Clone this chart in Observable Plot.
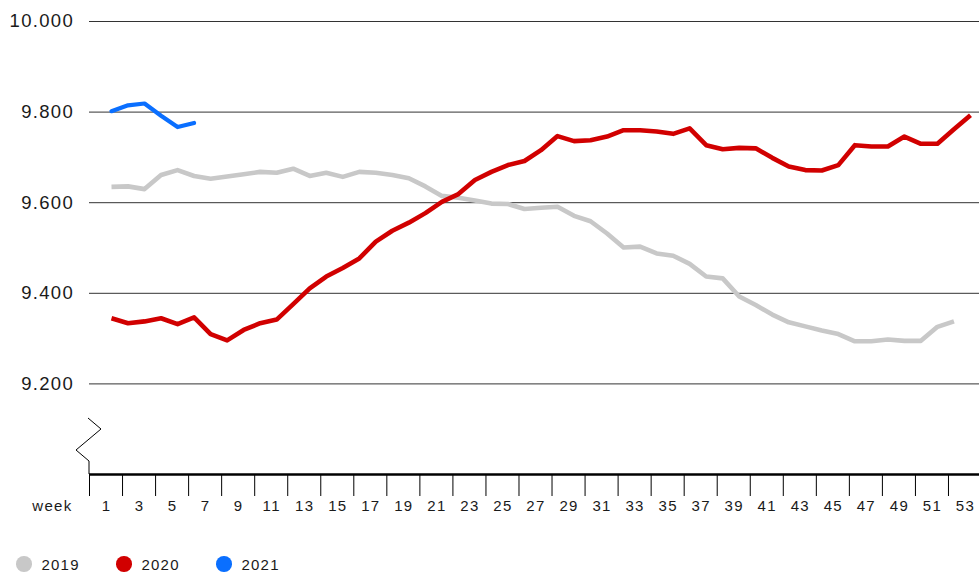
<!DOCTYPE html>
<html><head><meta charset="utf-8">
<script src="https://cdn.jsdelivr.net/npm/d3@7"></script>
<script src="https://cdn.jsdelivr.net/npm/@observablehq/plot@0.6"></script>
<style>
body{margin:0;background:#fff;font-family:"Liberation Sans",Arial,sans-serif;color:#1a1a1a;}
#legend{display:flex;height:38px;padding-left:16px;align-items:center;font-size:15px;letter-spacing:1.2px;}
.item{display:flex;align-items:center;width:100px;}
.sw{width:15.5px;height:15.5px;border-radius:50%;margin-right:10px;flex:none;}
</style></head><body>
<div id="chart"></div>
<div id="legend"></div>
<script>
// ---- data ----
const years = ["2019", "2020", "2021"];
const colors = ["#c8c8c8", "#d10000", "#0a6fff"];
const values2019 = [9635, 9636, 9630, 9661, 9672, 9659, 9653, 9658, 9663, 9668,
  9666, 9675, 9659, 9666, 9657, 9668, 9666, 9661, 9654, 9636,
  9615, 9611, 9605, 9598, 9597, 9586, 9589, 9591, 9571, 9559,
  9532, 9501, 9503, 9488, 9483, 9465, 9437, 9433, 9393, 9374,
  9353, 9336, 9327, 9318, 9310, 9294, 9294, 9298, 9295, 9295,
  9326, 9338];
const values2020 = [9345, 9334, 9338, 9345, 9332, 9347, 9310, 9296, 9319, 9334,
  9342, 9376, 9411, 9437, 9456, 9477, 9514, 9538, 9556, 9577,
  9602, 9619, 9650, 9668, 9683, 9692, 9716, 9747, 9736, 9738,
  9746, 9760, 9760, 9757, 9752, 9764, 9727, 9718, 9721, 9720,
  9699, 9680, 9672, 9671, 9683, 9727, 9724, 9724, 9746, 9730,
  9730, 9762, 9793];
const values2021 = [9802, 9815, 9819, 9792, 9767, 9776];
const yTicks = [9200, 9400, 9600, 9800, 10000];
const yTickLabels = ["9.200", "9.400", "9.600", "9.800", "10.000"];
const xTicks = [1, 3, 5, 7, 9, 11, 13, 15, 17, 19, 21, 23, 25, 27, 29, 31, 33, 35, 37, 39, 41, 43, 45, 47, 49, 51, 53];
const xAxisTitle = "week";

// ---- build table ----
const seriesValues = [values2019, values2020, values2021];
const rows = seriesValues.flatMap((vals, s) => vals.map((v, i) => ({year: years[s], week: i + 1, value: v})));
const yLabelOf = new Map(yTicks.map((t, i) => [t, yTickLabels[i]]));

const plot = Plot.plot({
  width: 979, height: 545,
  marginLeft: 89, marginRight: 0, marginTop: 21, marginBottom: 71,
  x: {domain: [-0.332, 53.546]},
  y: {domain: [9000, 10000]},
  color: {domain: years, range: colors},
  style: {fontFamily: "'Liberation Sans', Arial, sans-serif", color: "#1a1a1a", background: "#fff", letterSpacing: "1.3px", overflow: "visible"},
  marks: [
    Plot.ruleY(yTicks, {stroke: "#333", strokeWidth: 1}),
    Plot.ruleY([9000], {stroke: "#000", strokeWidth: 2.5}),
    Plot.axisY(yTicks, {tickSize: 0, tickPadding: 15.5, tickFormat: d => yLabelOf.get(d), fontSize: 18.5, label: null}),
    Plot.axisX(xTicks, {tickSize: 22, fill: "none", dx: -22, stroke: "#000", label: null}),
    Plot.axisX(xTicks, {tickSize: 0, tickPadding: 26, dx: -5, fontSize: 15, label: null}),
    Plot.text([xAxisTitle], {frameAnchor: "bottom-left", textAnchor: "end", lineAnchor: "middle", dx: -17, dy: 32, fontSize: 15}),
    Plot.line(rows.filter(d => d.year === "2019"), {x: "week", y: "value", stroke: "year", strokeWidth: 4.6, strokeLinejoin: "round", strokeLinecap: "butt"}),
    Plot.line(rows.filter(d => d.year === "2020"), {x: "week", y: "value", stroke: "year", strokeWidth: 4.6, strokeLinejoin: "round", strokeLinecap: "butt"}),
    Plot.line(rows.filter(d => d.year === "2021"), {x: "week", y: "value", stroke: "year", strokeWidth: 4.2, strokeLinejoin: "round", strokeLinecap: "round"})
  ]
});

// axis-break zigzag decoration, anchored at the frame's lower-left corner
const sy = plot.scale("y");
const ox = 89, oy = sy.apply(9000);
const zig = [[-1, -56], [12, -45], [-13, -24], [0, -13], [0, 0]];
d3.select(plot).append("path")
  .attr("d", d3.line()(zig.map(([dx, dy]) => [ox + dx, oy + dy])))
  .attr("fill", "none").attr("stroke", "#000").attr("stroke-width", 1);

document.getElementById("chart").append(plot);

// legend
const lg = d3.select("#legend");
years.forEach((y, i) => {
  const it = lg.append("div").attr("class", "item");
  it.append("span").attr("class", "sw").style("background", colors[i]);
  it.append("span").text(y);
});
</script>
</body></html>
